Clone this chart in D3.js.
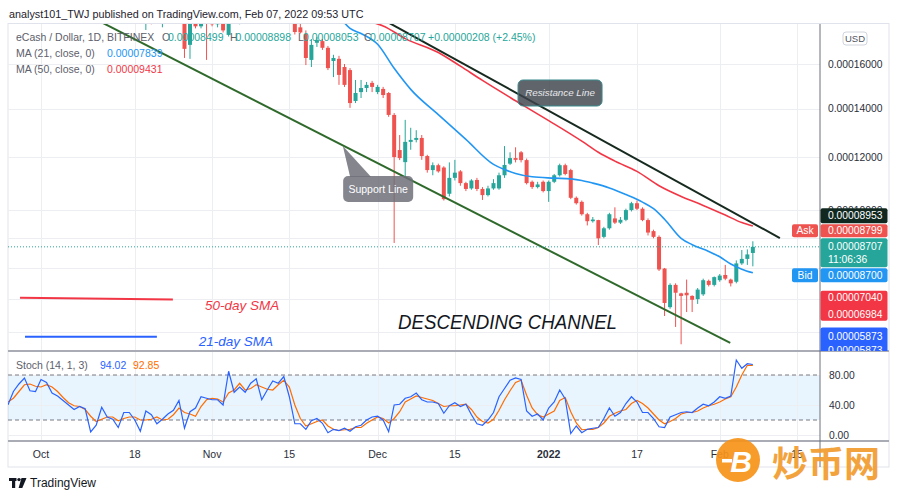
<!DOCTYPE html>
<html><head><meta charset="utf-8">
<script src="https://cdn.jsdelivr.net/npm/d3@7"></script>
<style>body{margin:0;background:#fff;}svg{display:block;font-family:"Liberation Sans",Arial,sans-serif;}</style>
</head><body><svg id="c" width="900" height="499"></svg>
<script>
// ---------------- DATA (prices in units of 1e-5 USD) ----------------
const firstDate = "2021-09-25";   // daily candles, one per day from this date
const opens = [
 20.2,20.0,20.6,21.0,21.2,20.5,20.5,21.3,21.1,20.6,
 20.4,20.1,19.8,19.5,19.7,19.6,18.6,18.8,19.6,19.1,
 19.0,18.5,19.3,19.3,18.9,18.2,19.1,18.9,18.4,18.8,
 19.1,19.3,19.8,16.9,18.3,17.8,18.6,18.4,17.9,18.1,
 17.38,19.5,19.0,19.4,19.1,19.7,20.0,19.2,19.6,20.1,
 19.9,20.4,19.3,17.75,17.43,16.19,17.0,17.08,16.76,16.14,
 16.24,15.86,15.72,14.34,14.73,14.91,15.14,14.73,14.87,14.69,
 13.74,12.29,11.81,12.62,12.70,12.78,12.05,11.5,11.69,11.6,
 10.6,11.2,11.45,11.0,10.8,11.12,10.78,10.55,10.8,10.8,
 11.3,11.75,11.97,12.2,11.89,11.05,10.85,11.05,10.7,11.05,
 11.3,11.69,11.5,10.45,10.3,9.85,9.6,9.64,9.05,9.35,
 9.7,9.55,9.65,10.0,10.25,10.05,9.64,9.25,9.05,7.98,
 6.75,7.45,7.18,7.2,7.1,7.0,7.15,7.58,7.45,7.6,
 7.77,7.62,7.55,8.15,8.3,8.499];
const highs = [
 20.8,21.0,21.3,21.5,21.3,20.9,21.6,21.6,21.2,20.9,
 20.6,20.3,20.0,19.9,19.9,19.7,19.0,19.8,19.7,19.3,
 19.1,19.4,19.5,19.4,19.0,19.3,19.3,19.0,19.0,19.3,
 19.5,20.0,19.9,18.5,18.6,18.8,18.9,18.5,18.3,18.2,
 19.8,19.7,19.6,19.5,19.9,20.2,20.1,19.8,20.3,20.3,
 20.6,20.5,19.4,18.3,17.6,17.18,17.28,17.18,16.85,16.43,
 16.38,16.0,15.81,15.27,15.27,15.18,15.23,15.05,14.96,14.73,
 13.82,12.9,13.53,13.2,13.1,12.9,12.1,11.8,11.75,11.65,
 11.8,11.9,11.5,11.05,11.15,11.2,10.85,10.9,11.15,11.4,
 12.45,12.2,12.4,12.25,11.95,11.1,11.05,11.1,11.1,11.35,
 11.75,11.75,11.55,10.5,10.35,9.9,9.75,9.65,9.4,9.9,
 10.1,9.75,10.05,10.3,10.35,10.1,9.7,9.3,9.1,8.0,
 7.5,7.5,7.2,7.62,7.12,7.35,7.65,7.62,7.72,7.8,
 8.1,7.65,8.25,8.6,8.62,8.898];
const lows = [
 19.7,19.8,20.3,20.6,20.3,20.2,20.4,20.9,20.4,20.2,
 19.9,19.6,19.3,19.3,19.4,18.4,18.3,18.7,18.9,18.8,
 18.4,18.4,19.0,18.7,18.0,17.62,17.9,18.2,17.75,18.5,
 18.9,19.2,16.28,16.24,17.7,17.7,16.19,17.8,17.75,17.5,
 17.3,18.8,17.9,18.8,19.0,19.4,19.0,19.1,19.5,19.7,
 19.8,19.1,17.4,17.45,15.95,15.86,16.8,16.66,15.72,15.4,
 15.05,14.96,14.04,14.25,14.47,14.73,14.73,14.64,14.47,13.66,
 8.84,11.89,11.23,12.3,12.6,11.9,11.4,11.3,11.4,10.35,
 10.5,11.1,10.9,10.7,10.75,10.7,10.37,10.5,10.75,10.75,
 11.2,11.7,11.8,11.8,10.95,10.78,10.8,10.65,10.3,11.0,
 11.25,11.3,10.4,10.2,9.8,9.45,9.55,8.77,9.0,9.3,
 9.5,9.5,9.6,9.95,10.0,9.6,9.1,9.0,7.9,6.48,
 6.7,6.15,5.64,6.6,6.6,6.85,7.1,7.4,7.4,7.55,
 7.6,7.4,7.5,8.1,8.1,8.053];
const closes = [
 20.0,20.6,21.0,21.2,20.5,20.5,21.3,21.1,20.6,20.4,
 20.1,19.8,19.5,19.7,19.6,18.6,18.8,19.6,19.1,19.0,
 18.5,19.3,19.3,18.9,18.2,19.1,18.9,18.4,18.8,19.1,
 19.3,19.8,16.71,18.3,17.8,18.6,18.4,17.9,18.1,17.6,
 19.5,19.0,19.4,19.1,19.7,20.0,19.2,19.6,20.1,19.9,
 20.4,19.3,17.52,17.5,16.28,16.90,17.13,16.76,15.81,16.28,
 15.50,15.05,14.25,14.69,14.91,15.05,14.96,14.96,14.60,13.74,
 12.01,11.97,12.62,12.70,12.78,12.05,11.5,11.69,11.45,10.4,
 11.2,11.4,11.0,10.78,11.1,10.78,10.55,10.8,11.0,11.3,
 11.7,11.97,11.9,11.89,11.0,10.85,10.95,10.7,11.05,11.3,
 11.69,11.35,10.45,10.25,9.85,9.6,9.66,9.0,9.35,9.85,
 9.55,9.65,10.0,10.25,10.05,9.64,9.2,9.05,7.95,6.88,
 7.45,7.2,7.1,7.12,6.98,7.3,7.6,7.45,7.7,7.75,
 7.65,7.5,8.15,8.3,8.45,8.707];
// Stochastic (14,1,3): %K and %D, same days as the candles
const stochK = [
 40,58,68,76,59,58,74,70,56,52, 46,40,34,38,35,4,13,37,24,21,
 10,30,30,20,5,32,27,15,21,28, 33,46,9,31,36,51,49,47,47,40,
 85,57,64,57,69,75,47,60,72,69, 78,51,15,15,7.6,19,22,15.6,3,7.6,
 6,9,5,11,13,20,24,25,20,4.4, 40,41,49,51,56,47,44,44,42,29,
 39,43,38,41,27,15,13,20,30,51, 62,73,76,74,32,25,28,20,36,44,
 60,48,2,12,3,7.6,9,10,22,36, 25,30,42,51,44,30,30,22,11,10,
 24,27,30,31,30,36,41,39,44,51, 49,52,100,89,95,94.02];
const stochD = [
 44,49,58,67,68,65,64,67,64,58, 50,43,39,38,34,25,18,21,24,24,
 19,22,24,24,20,20,21,24,20,21, 27,36,30,28,25,38,47,49,48,44,
 56,60,69,60,62,67,64,61,60,67, 73,64,40,22,12,15,18,20,12,7.6,
 6,7,7.6,10,10,15.6,20,24,22,16, 22,31,44,48,52,50,48,46,42,38,
 39,39,40,41,34,24,18,16,21,33, 47,59,70,73,53,36,27,24,28,32,
 46,50,31,16,7,7.6,7.6,10,16,25, 29,32,34,42,46,42,36,28,20,15,
 18,22,28,30,30,32,36,39,41,44, 48,51,64,80,93,92.85];
// Moving averages (day offset from 2021-10-01, value)
const ma21Days   = [54,56,58,61,64,67,72,77,82,84,86,89,93,96,98,100,103,106,109,111,113,116,118,121,123,125,127,129];
const ma21Values = [18.3,17.70,17.45,16.93,15.80,14.85,13.75,12.72,11.72,11.52,11.37,11.24,11.19,11.16,11.10,11.00,10.82,10.57,10.29,10.05,9.67,9.0,8.78,8.55,8.37,8.13,7.96,7.839];
const ma50Days   = [60,62,66,72,76,80,86,92,98,101,104,108,112,116,120,124,127,129];
const ma50Values = [18.0,17.82,17.2,16.54,15.9,15.25,14.35,13.5,12.65,12.2,11.85,11.45,10.9,10.5,10.17,9.82,9.55,9.431];
// Drawings (day offset from 2021-10-01, price)
const resistanceLine = [[60.5,18.36],[133.9,9.01]];
const supportLine    = [[8.4,18.36],[124.9,5.68]];
const sma50Legend    = [[-3.8,7.04],[23.9,6.99]];
const sma21Legend    = [[-2.9,5.86],[21.0,5.86]];
// Axis ticks
const priceTicks = [16,14,12,10,9,8,7,6];          // grid lines
const priceTickLabels = [16,14,12,10,6];           // labels not fully covered by the price tags
const stochTicks = [80,40,0];
const timeTickDates  = ["2021-10-01","2021-10-18","2021-11-01","2021-11-15","2021-12-01","2021-12-15","2022-01-01","2022-01-17","2022-02-01","2022-02-15"];
const timeTickLabels = ["Oct","18","Nov","15","Dec","15","2022","17","Feb","15"];
// Price-scale labels
const lastPrice = 8.707, askPrice = 8.799, bidPrice = 8.700, resistPrice = 8.953;
const redPair = [7.040, 6.984], bluePair = [5.873, 5.873];
const countdown = "11:06:36";

// ---------------- LAYOUT ----------------
const L = 8, R = 820, T = 24, MB = 351, SB = 441, AB = 467, AR = 889;
const DAY = 864e5;
const t0 = Date.UTC(2021,9,1);
const dOff = n => new Date(t0 + n*DAY);
const start = new Date(firstDate+"T00:00:00Z").getTime();
const dates = opens.map((_,i)=> new Date(start + i*DAY));

const svg = d3.select("#c");
const x = d3.scaleUtc().domain([new Date(Date.UTC(2021,9,1)), new Date(Date.UTC(2022,1,15))]).range([41,797]);
const y = d3.scaleSymlog().constant(11.7).domain([6,16]).range([332,64]);
const ys = d3.scaleLinear().domain([0,100]).range([435,360]);
const fmtP = v => (v*1e-5).toFixed(8);

const defs = svg.append("defs");
defs.append("clipPath").attr("id","mainClip").append("rect").attr("x",L).attr("y",T).attr("width",R-L).attr("height",MB-T);
defs.append("clipPath").attr("id","stClip").append("rect").attr("x",L).attr("y",MB+1).attr("width",R-L).attr("height",SB-MB-1);
defs.append("clipPath").attr("id","axClip").append("rect").attr("x",R).attr("y",T).attr("width",AR-R).attr("height",MB-T);

svg.append("rect").attr("width",900).attr("height",499).attr("fill","#fff");

// header
svg.append("text").attr("x",9).attr("y",14).attr("dominant-baseline","central")
  .attr("font-size",10.8).attr("fill","#1e222d")
  .text("analyst101_TWJ published on TradingView.com, Feb 07, 2022 09:53 UTC");

// frame
svg.append("rect").attr("x",L).attr("y",T-0.5).attr("width",AR-L).attr("height",AB-T+0.5)
  .attr("fill","none").attr("stroke","#e0e3eb");

// stoch band
svg.append("rect").attr("x",L).attr("y",ys(80)).attr("width",R-L).attr("height",ys(20)-ys(80))
  .attr("fill","#2196f3").attr("fill-opacity",0.1);

// grid
const grid = svg.append("g").attr("stroke","#eceef2").attr("stroke-width",1);
timeTickDates.forEach(s=>{
  const gx = Math.round(x(new Date(s+"T00:00:00Z")))+0.5;
  grid.append("line").attr("x1",gx).attr("x2",gx).attr("y1",T).attr("y2",SB);
});
priceTicks.forEach(v=>{
  const gy = Math.round(y(v))+0.5;
  grid.append("line").attr("x1",L).attr("x2",R).attr("y1",gy).attr("y2",gy);
});
stochTicks.forEach(v=>{
  const gy = Math.round(ys(v))+0.5;
  grid.append("line").attr("x1",L).attr("x2",R).attr("y1",gy).attr("y2",gy);
});
[80,20].forEach(v=>{
  svg.append("line").attr("x1",L).attr("x2",R).attr("y1",ys(v)).attr("y2",ys(v))
    .attr("stroke","#787b86").attr("stroke-dasharray","4,3").attr("stroke-width",1);
});

// ---------------- MAIN PANE ----------------
const main = svg.append("g").attr("clip-path","url(#mainClip)");
const up = "#26a69a", dn = "#ef5350";
const candles = opens.map((o,i)=>({d:dates[i],o,h:highs[i],l:lows[i],c:closes[i]}));
const cg = main.append("g");
cg.selectAll("line").data(candles).join("line")
  .attr("x1",d=>x(d.d)).attr("x2",d=>x(d.d))
  .attr("y1",d=>y(d.h)).attr("y2",d=>y(d.l))
  .attr("stroke",d=>d.c>=d.o?up:dn).attr("stroke-width",1);
cg.selectAll("rect").data(candles).join("rect")
  .attr("x",d=>x(d.d)-2).attr("width",4)
  .attr("y",d=>Math.min(y(d.o),y(d.c)))
  .attr("height",d=>Math.max(1,Math.abs(y(d.o)-y(d.c))))
  .attr("fill",d=>d.c>=d.o?up:dn);

// moving averages
const maLine = d3.line().x(d=>x(dOff(d[0]))).y(d=>y(d[1])).curve(d3.curveMonotoneX);
main.append("path").attr("d",maLine(ma21Days.map((d,i)=>[d,ma21Values[i]])))
  .attr("fill","none").attr("stroke","#2196f3").attr("stroke-width",1.6);
main.append("path").attr("d",maLine(ma50Days.map((d,i)=>[d,ma50Values[i]])))
  .attr("fill","none").attr("stroke","#f23645").attr("stroke-width",1.6);

// trend lines
function seg(p, color, w){
  main.append("line").attr("x1",x(dOff(p[0][0]))).attr("y1",y(p[0][1]))
    .attr("x2",x(dOff(p[1][0]))).attr("y2",y(p[1][1]))
    .attr("stroke",color).attr("stroke-width",w);
}
seg(resistanceLine,"#172a20",2);
seg(supportLine,"#2f6a2c",2);
seg(sma50Legend,"#f23645",2);
seg(sma21Legend,"#2962ff",2);

// current price dotted line
main.append("line").attr("x1",L).attr("x2",R).attr("y1",y(lastPrice)).attr("y2",y(lastPrice))
  .attr("stroke",up).attr("stroke-dasharray","1,2").attr("stroke-width",1);

// callouts
const sc = {tip:[54.7,12.45], c:[61.1,10.78], w:70, h:26, text:"Support Line"};
{
  const cx = x(dOff(sc.c[0])), cy = y(sc.c[1]);
  const tx = x(dOff(sc.tip[0])), ty = y(sc.tip[1]);
  const top = cy - sc.h/2, left = cx - sc.w/2;
  main.append("path").attr("d",`M${tx},${ty}L${left+28},${top+1}L${left+7},${top+1}Z`)
    .attr("fill","#6f7079").attr("fill-opacity",0.85);
  main.append("rect").attr("x",left).attr("y",top).attr("width",sc.w).attr("height",sc.h).attr("rx",5)
    .attr("fill","#6f7079").attr("fill-opacity",0.85);
  main.append("text").attr("x",cx).attr("y",cy).attr("text-anchor","middle").attr("dominant-baseline","central")
    .attr("font-size",10.5).attr("fill","#fff").text(sc.text);
}
const rc = {c:[94.06,14.69], w:84, h:26, text:"Resistance Line"};
{
  const cx = x(dOff(rc.c[0])), cy = y(rc.c[1]);
  main.append("rect").attr("x",cx-rc.w/2).attr("y",cy-rc.h/2).attr("width",rc.w).attr("height",rc.h).attr("rx",5)
    .attr("fill","#3d434c").attr("fill-opacity",0.82).attr("stroke","#3a8a8c").attr("stroke-width",1);
  main.append("text").attr("x",cx).attr("y",cy).attr("text-anchor","middle").attr("dominant-baseline","central")
    .attr("font-size",9.8).attr("font-style","italic").attr("fill","#e8e8ea").text(rc.text);
}
// text annotations
main.append("text").attr("x",x(dOff(64.7))).attr("y",y(6.09))
  .attr("font-size",21).attr("font-style","italic").attr("fill","#131722")
  .attr("textLength",219).attr("lengthAdjust","spacingAndGlyphs").text("DESCENDING CHANNEL");
main.append("text").attr("x",x(dOff(29.7))).attr("y",y(6.66))
  .attr("font-size",13.5).attr("font-style","italic").attr("fill","#f23645").text("50-day SMA");
main.append("text").attr("x",x(dOff(28.6))).attr("y",y(5.58))
  .attr("font-size",13.5).attr("font-style","italic").attr("fill","#2962ff").text("21-day SMA");

// legend
const grey = "#5d606b";
function lt(xp, yp, s, col){ svg.append("text").attr("x",xp).attr("y",yp).attr("dominant-baseline","central")
  .attr("font-size",10.5).attr("fill",col).text(s); }
lt(16,37,"eCash / Dollar, 1D, BITFINEX",grey);
lt(162,37,"O",grey); lt(168,37,fmtP(opens[opens.length-1]),up);
lt(230,37,"H",grey); lt(235.5,37,fmtP(highs[highs.length-1]),up);
lt(298,37,"L",grey); lt(303,37,fmtP(lows[lows.length-1]),up);
lt(364,37,"C",grey); lt(370,37,fmtP(closes[closes.length-1]),up);
lt(428,37,"+0.00000208 (+2.45%)",up);
lt(16,53,"MA (21, close, 0)",grey); lt(107,53,fmtP(ma21Values[ma21Values.length-1]),"#2196f3");
lt(16,69,"MA (50, close, 0)",grey); lt(107,69,fmtP(ma50Values[ma50Values.length-1]),"#f23645");

// ---------------- STOCH PANE ----------------
const st = svg.append("g").attr("clip-path","url(#stClip)");
const sl = d3.line().x((d,i)=>x(dates[i])).y(d=>ys(d));
st.append("path").attr("d",sl(stochD)).attr("fill","none").attr("stroke","#ff6d00").attr("stroke-width",1.2);
st.append("path").attr("d",sl(stochK)).attr("fill","none").attr("stroke","#2962ff").attr("stroke-width",1.2);
lt(16,365,"Stoch (14, 1, 3)",grey);
lt(100,365,stochK[stochK.length-1].toFixed(2),"#2962ff");
lt(133,365,stochD[stochD.length-1].toFixed(2),"#ff6d00");

// separators
[MB, SB].forEach(v=>svg.append("line").attr("x1",L).attr("x2",AR).attr("y1",v).attr("y2",v)
  .attr("stroke","#a9acb5").attr("stroke-width",2));
svg.append("line").attr("x1",R).attr("x2",R).attr("y1",T).attr("y2",AB).attr("stroke","#6d707a").attr("stroke-width",1);

// ---------------- PRICE AXIS ----------------
const ax = svg.append("g").attr("clip-path","url(#axClip)");
priceTickLabels.forEach(v=>{
  ax.append("text").attr("x",828).attr("y",y(v)).attr("dominant-baseline","central")
    .attr("font-size",10.3).attr("fill","#2a2e39").text(fmtP(v));
});
function box(top,h,fill,lines){
  ax.append("rect").attr("x",R+0.5).attr("y",top).attr("width",AR-R-2).attr("height",h).attr("rx",2).attr("fill",fill);
  lines.forEach(([ty,s])=> ax.append("text").attr("x",828).attr("y",ty).attr("dominant-baseline","central")
    .attr("font-size",10.3).attr("fill","#fff").text(s));
}
const yl = y(lastPrice);
const curTop = yl-8.7, curH = 29;
box(curTop,curH,up,[[yl,fmtP(lastPrice)],[yl+12.3,countdown]]);
const askTop = curTop-14;
box(askTop,13,"#ef5350",[[askTop+6.8,fmtP(askPrice)]]);
const resTop = askTop-16;
box(resTop,15,"#10281f",[[resTop+7.5,fmtP(resistPrice)]]);
const bidTop = curTop+curH+1;
box(bidTop,14,"#2196f3",[[bidTop+7,fmtP(bidPrice)]]);
const yr = y(redPair[0]);
box(yr-7,30,"#f23645",[[yr,fmtP(redPair[0])],[yr+16.5,fmtP(redPair[1])]]);
const yb = y(bluePair[0]);
box(yb-8.7,26,"#2962ff",[[yb,fmtP(bluePair[0])],[yb+14.5,fmtP(bluePair[1])]]);
// Ask / Bid tags
function tag(top,h,fill,s){
  svg.append("rect").attr("x",792).attr("y",top).attr("width",26).attr("height",h).attr("rx",2).attr("fill",fill);
  svg.append("text").attr("x",805).attr("y",top+h/2).attr("text-anchor","middle").attr("dominant-baseline","central")
    .attr("font-size",10.3).attr("fill","#fff").text(s);
}
tag(askTop,13,"#ef5350","Ask");
tag(bidTop,14,"#2196f3","Bid");
// USD button
svg.append("rect").attr("x",843).attr("y",32).attr("width",24).attr("height",13).attr("rx",3)
  .attr("fill","#fff").attr("stroke","#d1d4dc");
svg.append("text").attr("x",855).attr("y",38.5).attr("text-anchor","middle").attr("dominant-baseline","central")
  .attr("font-size",9.5).attr("fill","#50535e").text("USD");
// stoch axis
stochTicks.forEach(v=>{
  svg.append("text").attr("x",829).attr("y",ys(v)).attr("dominant-baseline","central")
    .attr("font-size",10.3).attr("fill","#2a2e39").text(v.toFixed(2));
});

// ---------------- TIME AXIS ----------------
timeTickDates.forEach((s,i)=>{
  svg.append("text").attr("x",x(new Date(s+"T00:00:00Z"))).attr("y",454).attr("text-anchor","middle")
    .attr("dominant-baseline","central").attr("font-size",10.5)
    .attr("font-weight",timeTickLabels[i]==="2022"?"bold":"normal")
    .attr("fill","#2a2e39").text(timeTickLabels[i]);
});

// TradingView logo
const lg = svg.append("g").attr("fill","#131722");
lg.append("rect").attr("x",9).attr("y",478).attr("width",7.5).attr("height",3);
lg.append("rect").attr("x",12).attr("y",478).attr("width",3.2).attr("height",10);
lg.append("circle").attr("cx",19).attr("cy",479.6).attr("r",1.7);
lg.append("path").attr("d","M21.5,478L26.5,478L22.3,488L18.6,488Z");
svg.append("text").attr("x",30).attr("y",483).attr("dominant-baseline","central")
  .attr("font-size",12).attr("fill","#131722").text("TradingView");

// watermark
const wm = svg.append("g").attr("opacity",0.92);
wm.append("circle").attr("cx",738).attr("cy",460).attr("r",22).attr("fill","#f7931a");
wm.append("text").attr("x",741).attr("y",461).attr("text-anchor","middle").attr("dominant-baseline","central")
  .attr("font-size",30).attr("font-weight","bold").attr("font-style","italic").attr("fill","#fff").text("B");
wm.append("rect").attr("x",722).attr("y",459).attr("width",10).attr("height",3.5).attr("fill","#fff");
wm.append("text").attr("x",772).attr("y",477).attr("font-size",36).attr("font-weight",700)
  .attr("font-family","'Noto Sans CJK SC',sans-serif").attr("fill","#f39c2e").text("炒币网");
</script></body></html>
